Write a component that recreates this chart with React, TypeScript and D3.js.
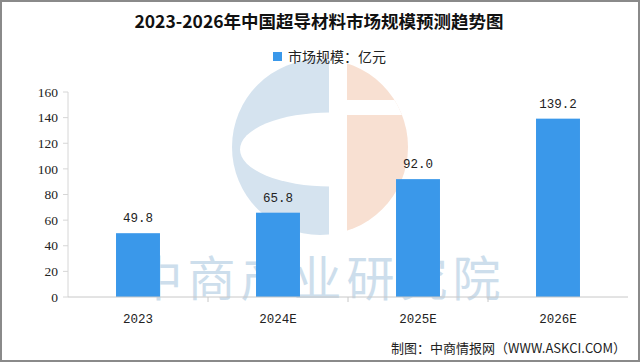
import React from "react";
import * as d3 from "d3";

// 2023-2026 superconducting materials market size (亿元)
const years: string[] = ["2023", "2024E", "2025E", "2026E"];
const marketSize: number[] = [49.8, 65.8, 92.0, 139.2];
const yTicks: number[] = [0, 20, 40, 60, 80, 100, 120, 140, 160];

const W = 640;
const H = 363;
const BLUE = "#3a98ea";

const App = () => {
  const x = d3
    .scaleBand<string>()
    .domain(years)
    .range([68, 628])
    .paddingInner(0.686)
    .paddingOuter(0.343);
  const y = d3.scaleLinear().domain([0, 160]).range([297, 92]);
  const step = x.step();
  const x0 = x.range()[0];

  const cjk = "'Noto Sans CJK SC', 'Noto Sans', sans-serif";
  const num = "'Liberation Serif', 'DejaVu Serif', serif";
  const mono = "'Liberation Mono', 'DejaVu Sans Mono', monospace";

  return (
    <svg
      width={W}
      height={H}
      style={{ position: "absolute", left: 0, top: 0, background: "#fff" }}
    >
      <defs>
        <clipPath id="logoClip">
          <circle cx={320} cy={147} r={88} />
        </clipPath>
      </defs>
      <rect x={0} y={0} width={W} height={H} fill="#fff" />

      {/* watermark logo */}
      <g clipPath="url(#logoClip)">
        <rect x={228} y={55} width={101} height={185} fill="#d5e3ef" />
        <ellipse cx={330} cy={149.5} rx={90} ry={37} fill="#fff" />
        <rect x={347} y={55} width={70} height={185} fill="#f8e0d2" />
        <rect x={347} y={100} width={70} height={15} fill="#fff" />
      </g>

      {/* watermark text */}
      <text
        x={320}
        y={296}
        textAnchor="middle"
        fontFamily={cjk}
        fontSize={48}
        letterSpacing={5}
        fill="#cddeec"
      >
        中商产业研究院
      </text>

      {/* title */}
      <text
        x={319}
        y={28}
        textAnchor="middle"
        fontFamily={cjk}
        fontWeight="bold"
        fontSize={17.5}
        fill="#111"
      >
        2023-2026年中国超导材料市场规模预测趋势图
      </text>

      {/* legend */}
      <rect x={273} y={52} width={9} height={9} fill={BLUE} />
      <text x={288} y={62} fontFamily={cjk} fontSize={14} fill="#222">
        市场规模：亿元
      </text>

      {/* y axis */}
      <line x1={68} x2={68} y1={y(160)} y2={y(0)} stroke="#d6d6d6" />
      {yTicks.map((t) => (
        <g key={t}>
          <line x1={63} x2={68} y1={y(t)} y2={y(t)} stroke="#d6d6d6" />
          <text
            x={58}
            y={y(t)}
            dy="0.35em"
            textAnchor="end"
            fontFamily={num}
            fontSize={13.5}
            fill="#222"
          >
            {t}
          </text>
        </g>
      ))}

      {/* bars */}
      {years.map((yr, i) => (
        <g key={yr}>
          <rect
            x={x(yr)}
            y={y(marketSize[i])}
            width={x.bandwidth()}
            height={y(0) - y(marketSize[i])}
            fill={BLUE}
          />
          <text
            x={(x(yr) as number) + x.bandwidth() / 2}
            y={y(marketSize[i]) - 11}
            textAnchor="middle"
            fontFamily={mono}
            fontSize={12.5}
            fill="#222"
          >
            {marketSize[i].toFixed(1)}
          </text>
          <text
            x={(x(yr) as number) + x.bandwidth() / 2}
            y={323}
            textAnchor="middle"
            fontFamily={mono}
            fontSize={12.5}
            fill="#222"
          >
            {yr}
          </text>
        </g>
      ))}

      {/* x axis */}
      <line x1={68} x2={628} y1={y(0)} y2={y(0)} stroke="#c8c8c8" />
      {years.slice(1).map((yr, i) => (
        <line
          key={yr}
          x1={x0 + step * (i + 1)}
          x2={x0 + step * (i + 1)}
          y1={y(0)}
          y2={y(0) + 5}
          stroke="#c8c8c8"
        />
      ))}

      {/* source */}
      <text
        x={626}
        y={353}
        textAnchor="end"
        fontFamily={cjk}
        fontSize={13}
        fill="#222"
      >
        制图：中商情报网（WWW.ASKCI.COM）
      </text>

      {/* frame */}
      <rect
        x={1}
        y={1}
        width={W - 2}
        height={H - 3}
        fill="none"
        stroke="#8a8a8a"
        strokeWidth={2}
      />
    </svg>
  );
};

export default App;
